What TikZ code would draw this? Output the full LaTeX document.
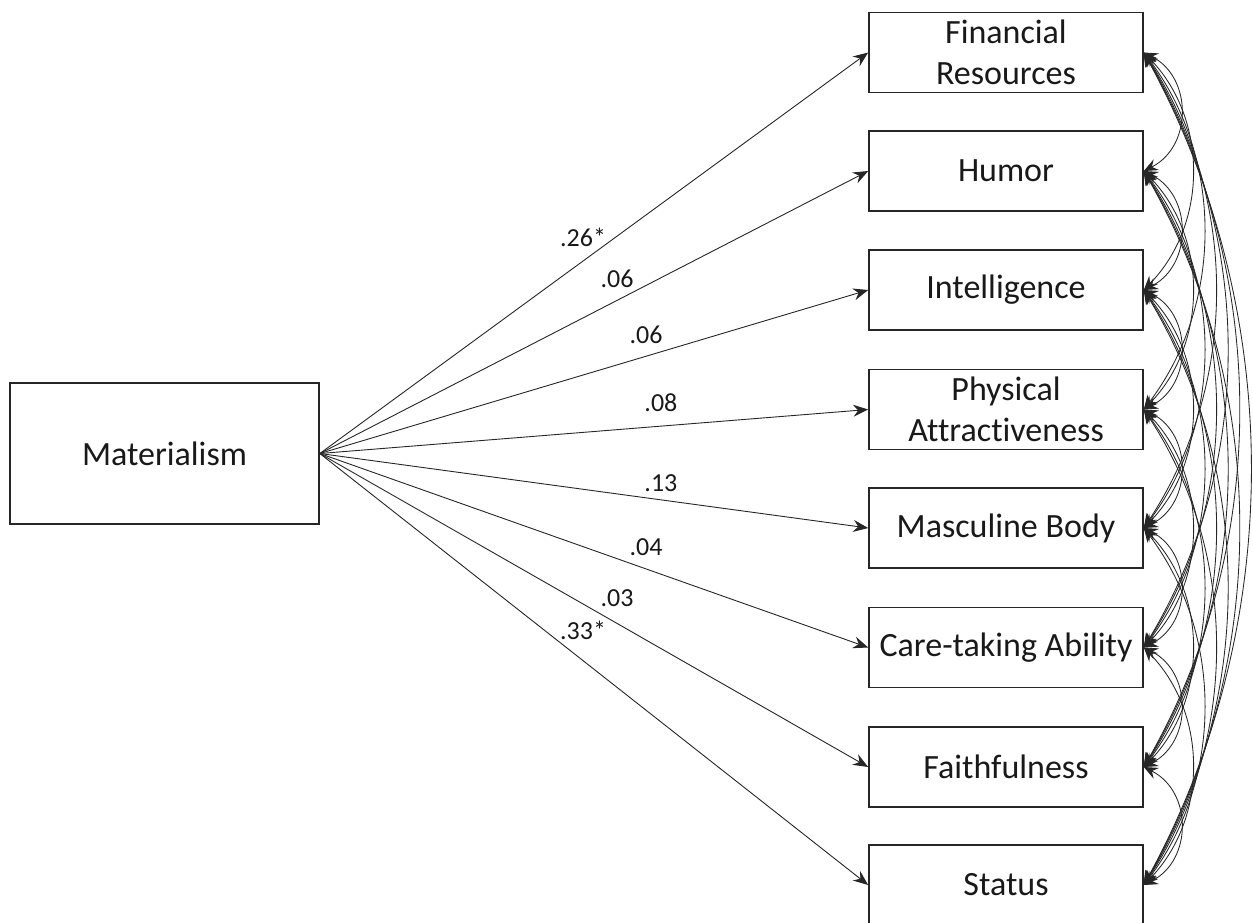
\documentclass[tikz,border=0pt]{standalone}
\usepackage{fontspec}
\setmainfont{Carlito}[Ligatures=NoCommon]
\usetikzlibrary{arrows.meta,calc}
\begin{document}
\begin{tikzpicture}[x=1pt,y=-1pt,
  box/.style={draw=black!85, line width=1.6pt, rectangle, inner sep=0pt,
    minimum width=274pt, minimum height=80pt, align=center,
    font=\fontsize{34}{41}\selectfont, text=black!90},
  regarrow/.style={draw=black!85, line width=0.9pt, -{Stealth[length=15pt,width=12pt,inset=5pt]}},
  cov/.style={draw=black!85, line width=0.85pt,
    {Stealth[length=14pt,width=12pt,inset=5pt]}-{Stealth[length=14pt,width=12pt,inset=5pt]}},
  lbl/.style={font=\fontsize{26}{30}\selectfont, inner sep=0pt, text=black!90}
]
\useasboundingbox (0,0) rectangle (1253,922);
\node[box, minimum width=309pt, minimum height=141pt] (mat) at (164.5,453.5) {Materialism};
\node[box] (v1) at (1006,52.5) {Financial\\Resources};
\node[box] (v2) at (1006,171) {Humor};
\node[box] (v3) at (1006,290) {Intelligence};
\node[box] (v4) at (1006,409.5) {Physical\\Attractiveness};
\node[box] (v5) at (1006,528) {Masculine Body};
\node[box] (v6) at (1006,647.5) {Care-taking Ability};
\node[box] (v7) at (1006,767) {Faithfulness};
\node[box] (v8) at (1006,885) {Status};

\draw[regarrow] (mat.east) -- node[lbl,pos=0.48,yshift=24pt]{.26*} (v1.west);
\draw[regarrow] (mat.east) -- node[lbl,pos=0.542,yshift=22pt]{.06} (v2.west);
\draw[regarrow] (mat.east) -- node[lbl,pos=0.595,yshift=21pt]{.06} (v3.west);
\draw[regarrow] (mat.east) -- node[lbl,pos=0.622,yshift=23pt]{.08} (v4.west);
\draw[regarrow] (mat.east) -- node[lbl,pos=0.622,yshift=17pt]{.13} (v5.west);
\draw[regarrow] (mat.east) -- node[lbl,pos=0.595,yshift=22pt]{.04} (v6.west);
\draw[regarrow] (mat.east) -- node[lbl,pos=0.542,yshift=25pt]{.03} (v7.west);
\draw[regarrow] (mat.east) -- node[lbl,pos=0.48,yshift=30pt]{.33*} (v8.west);

\foreach \i in {1,...,7}{
  \pgfmathtruncatemacro{\s}{\i+1}
  \foreach \j in {\s,...,8}{
    \pgfmathsetmacro{\h}{(\j-\i)*118.93/2}
    \pgfmathsetmacro{\sg}{25+0.196*\h}
    \pgfmathsetmacro{\th}{2*atan(\sg/\h)}
    \pgfmathsetmacro{\cx}{4/3*\sg}
    \pgfmathsetmacro{\cy}{4/3*\sg*cos(\th)/sin(\th)}
    \draw[cov] (v\i.east) .. controls ($(v\i.east)+(\cx,\cy)$) and ($(v\j.east)+(\cx,-\cy)$) .. (v\j.east);
  }
}
\end{tikzpicture}
\end{document}
